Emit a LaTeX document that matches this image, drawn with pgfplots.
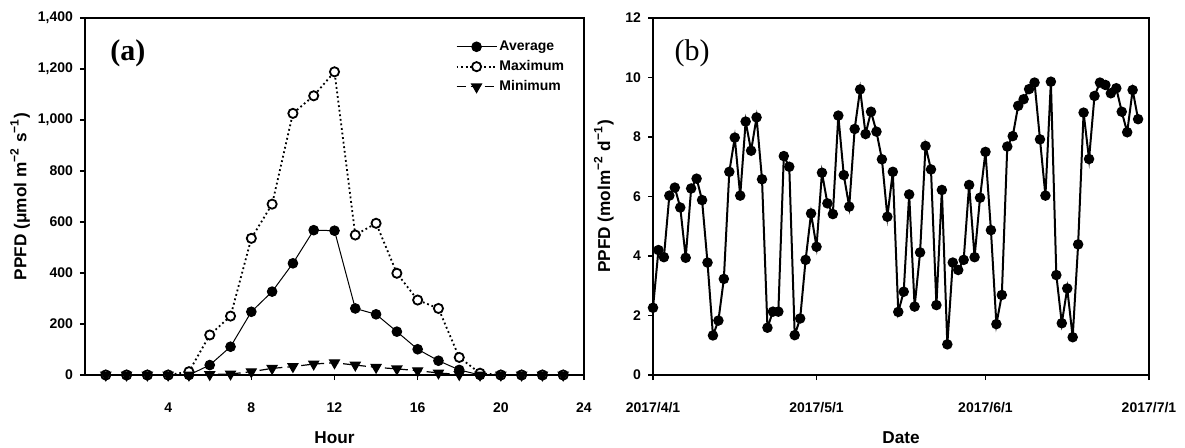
\documentclass[border=0pt]{standalone}
\usepackage{pgfplots}
\pgfplotsset{compat=1.18}
\usepackage{fontspec}
\setmainfont{Liberation Sans}
\newfontfamily\panelfont{Liberation Serif}

\pgfplotsset{
  ppfd/.style={
    scale only axis, height=178.5pt, clip=false,
    axis line style={line width=1pt},
    tick pos=left, tick align=outside, major tick length=2.5pt,
    tick style={line width=0.8pt, black},
    ticklabel style={font=\bfseries\fontsize{7}{8}\selectfont},
    /pgf/number format/assume math mode=true,
    every axis x label/.style={at={(axis description cs:0.5,-0.176)}, anchor=center,
      font=\bfseries\fontsize{8.6}{10}\selectfont},
    xticklabel style={anchor=center, yshift=-14pt},
  }
}

\begin{document}
\begin{tikzpicture}
  % (a) hourly PPFD
  \begin{axis}[ppfd,
      at={(0pt,0pt)}, anchor=south west, width=249.5pt,
      xmin=0, xmax=24, xtick={4,8,...,24},
      ymin=0, ymax=1400, ytick={0,200,...,1400},
      /pgf/number format/1000 sep={,},
      xlabel={Hour},
      ylabel={PPFD (μmol m\textsuperscript{−2} s\textsuperscript{−1})},
      every axis y label/.style={at={(axis description cs:-0.13,0.5)}, rotate=90, anchor=center,
        font=\bfseries\fontsize{8.6}{10}\selectfont},
      legend style={at={(0.73,0.955)}, anchor=north west, draw=none, fill=none,
        font=\bfseries\fontsize{7}{8}\selectfont, row sep=1.5pt,
        nodes={inner sep=1pt}},
      legend cell align=left,
      legend image code/.code={\draw[mark repeat=2,mark phase=2] plot coordinates {(0pt,0pt) (10pt,0pt) (20pt,0pt)};},
    ]
    \addplot[black, line width=0.5pt, mark=*, mark size=2.4pt] coordinates {
      (1,0) (2,0) (3,0) (4,0) (5,0) (6,39) (7,111) (8,248) (9,327) (10,438) (11,568) (12,566)
      (13,261) (14,238) (15,170) (16,101) (17,56) (18,20) (19,0) (20,0) (21,0) (22,0) (23,0)};
    \addlegendentry{Average}
    \addplot[black, line width=0.9pt, dash pattern=on 0.9pt off 1.4pt, mark=*, mark size=2.3pt,
        mark options={solid, fill=white, line width=0.9pt}] coordinates {
      (1,0) (2,0) (3,0) (4,0) (5,13) (6,157) (7,231) (8,536) (9,670) (10,1026) (11,1095) (12,1189)
      (13,549) (14,595) (15,399) (16,294) (17,261) (18,69) (19,7) (20,0) (21,0) (22,0) (23,0)};
    \addlegendentry{Maximum}
    \addplot[black, line width=0.6pt, dash pattern=on 4.5pt off 2.5pt, mark=triangle*, mark size=2.8pt, mark options={solid, rotate=180}] coordinates {
      (1,0) (2,0) (3,0) (4,0) (5,0) (6,2) (7,4) (8,13) (9,26) (10,33) (11,43) (12,48)
      (13,39) (14,30) (15,24) (16,17) (17,8) (18,2) (19,0) (20,0) (21,0) (22,0) (23,0)};
    \addlegendentry{Minimum}
    \node[font=\panelfont\bfseries\fontsize{15}{16}\selectfont] at (rel axis cs:0.086,0.902) {(a)};
  \end{axis}

  % (b) daily light integral, day 0 = 2017/4/1
  \begin{axis}[ppfd,
      at={(284pt,0pt)}, anchor=south west, width=248pt,
      xmin=0, xmax=91, xtick={0,30,61,91},
      xticklabels={2017/4/1,2017/5/1,2017/6/1,2017/7/1},
      ymin=0, ymax=12, ytick={0,2,...,12},
      xlabel={Date},
      ylabel={PPFD (molm\textsuperscript{−2} d\textsuperscript{−1})},
      every axis y label/.style={at={(axis description cs:-0.099,0.5)}, rotate=90, anchor=center,
        font=\bfseries\fontsize{8.6}{10}\selectfont},
    ]
    \addplot[black, line width=1pt, mark=*, mark size=2.1pt] coordinates {
      (0,2.26) (1,4.20) (2,3.96) (3,6.03) (4,6.30) (5,5.63) (6,3.94) (7,6.27) (8,6.60) (9,5.88)
      (10,3.78) (11,1.33) (12,1.83) (13,3.23) (14,6.83) (15,7.98) (16,6.03) (17,8.52) (18,7.54) (19,8.66)
      (20,6.58) (21,1.59) (22,2.13) (23,2.13) (24,7.36) (25,7.00) (26,1.34) (27,1.90) (28,3.87) (29,5.43)
      (30,4.31) (31,6.80) (32,5.77) (33,5.41) (34,8.72) (35,6.72) (36,5.66) (37,8.27) (38,9.60) (39,8.10)
      (40,8.85) (41,8.18) (42,7.25) (43,5.32) (44,6.83) (45,2.12) (46,2.80) (47,6.07) (48,2.30) (49,4.12)
      (50,7.70) (51,6.91) (52,2.35) (53,6.22) (54,1.03) (55,3.78) (56,3.53) (57,3.87) (58,6.39) (59,3.96)
      (60,5.96) (61,7.50) (62,4.87) (63,1.71) (64,2.69) (65,7.68) (66,8.03) (67,9.05) (68,9.27) (69,9.61)
      (70,9.83) (71,7.92) (72,6.03) (73,9.86) (74,3.36) (75,1.74) (76,2.91) (77,1.27) (78,4.39) (79,8.82)
      (80,7.26) (81,9.38) (82,9.83) (83,9.75) (84,9.47) (85,9.64) (86,8.85) (87,8.16) (88,9.58) (89,8.60)};
    \node[font=\panelfont\fontsize{15}{16}\selectfont] at (rel axis cs:0.079,0.902) {(b)};
  \end{axis}
  \pgfresetboundingbox
  \path[use as bounding box] (-42.5pt,-36pt) rectangle (550pt,187.5pt);
\end{tikzpicture}
\end{document}
